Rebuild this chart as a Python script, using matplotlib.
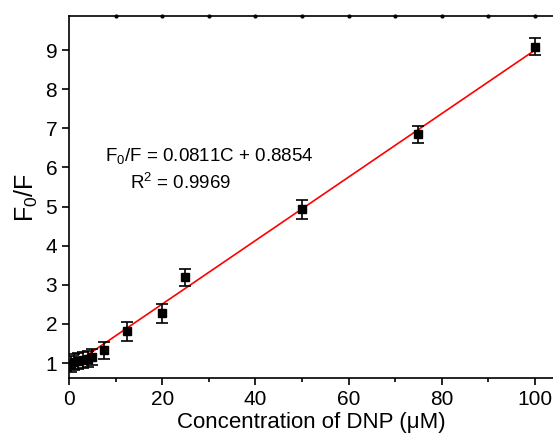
import matplotlib
matplotlib.use("Agg")
import matplotlib.pyplot as plt
from matplotlib.ticker import MultipleLocator

plt.rcParams["font.family"] = ["Liberation Sans", "DejaVu Sans"]
plt.rcParams["mathtext.fontset"] = "custom"
plt.rcParams["mathtext.rm"] = "Liberation Sans"
plt.rcParams["mathtext.it"] = "Liberation Sans"

# DNP concentration (uM) and measured F0/F with error
conc = [0.5, 1, 2, 3, 4, 5, 7.5, 12.5, 20, 25, 50, 75, 100]
ratio = [0.97, 1.02, 1.05, 1.08, 1.11, 1.15, 1.33, 1.81, 2.27, 3.19, 4.93, 6.85, 9.08]
err = [0.2, 0.2, 0.2, 0.2, 0.2, 0.2, 0.22, 0.24, 0.24, 0.22, 0.24, 0.22, 0.22]

slope = 0.0811
intercept = 0.8854
fit_x = [0, 100]
top_marks = [10, 20, 30, 40, 50, 60, 70, 80, 90, 100]

fig = plt.figure(figsize=(5.53, 4.4), dpi=100)
ax = fig.add_axes([0.1248, 0.141, 0.8752, 0.8227])

ax.plot(fit_x, [slope * x + intercept for x in fit_x], color="red", lw=1.2, zorder=2)
ax.errorbar(conc, ratio, yerr=err, fmt="s", color="black", ms=6,
            capsize=4, elinewidth=1.2, capthick=1.2, zorder=3)

ax.set_xlim(0, 103.9)
ax.set_ylim(0.62, 9.87)
ax.plot(top_marks, [9.87] * len(top_marks), "k.", ms=4, clip_on=False)

ax.spines["right"].set_visible(False)
for s in ["left", "bottom", "top"]:
    ax.spines[s].set_linewidth(1.2)

ax.xaxis.set_major_locator(MultipleLocator(20))
ax.xaxis.set_minor_locator(MultipleLocator(10))
ax.set_yticks(range(1, 10))
ax.tick_params(axis="both", direction="out", labelsize=15, width=1.2, length=5)
ax.tick_params(axis="x", which="minor", direction="out", width=1.2, length=3)
ax.tick_params(top=False, right=False)

ax.set_xlabel("Concentration of DNP (μM)", fontsize=16, labelpad=2)
ax.set_ylabel("F$_0$/F", fontsize=18, labelpad=4)

ax.text(0.075, 0.598, "F$_0$/F = 0.0811C + 0.8854", transform=ax.transAxes, fontsize=13.5)
ax.text(0.125, 0.522, "R$^2$ = 0.9969", transform=ax.transAxes, fontsize=13.5)

fig.savefig("out.png", dpi=100)
